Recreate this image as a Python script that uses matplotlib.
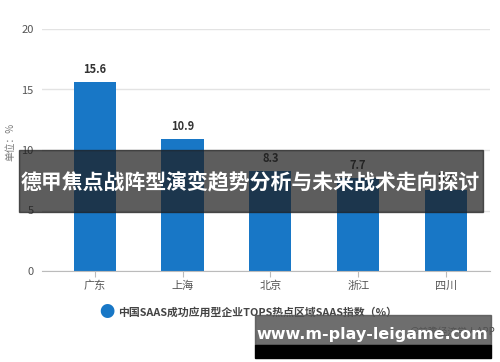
import matplotlib
matplotlib.use('Agg')
import matplotlib.pyplot as plt
from matplotlib.patches import Rectangle

plt.rcParams['font.family'] = ['Noto Sans CJK SC', 'DejaVu Sans']

regions = ['广东', '上海', '北京', '浙江', '四川']
values = [15.6, 10.9, 8.3, 7.7, 6.7]
yticks = [0, 5, 10, 15, 20]
legend_label = '中国SAAS成功应用型企业TOPS热点区域SAAS指数（%）'
banner_title = '德甲焦点战阵型演变趋势分析与未来战术走向探讨'
site = 'www.m-play-leigame.com'

W, H = 500, 362
fig = plt.figure(figsize=(W / 100, H / 100), dpi=100)
ax = fig.add_axes([42 / W, 1 - 271 / H, 448 / W, 242 / H])

bar_color = '#1877c6'
x = list(range(len(regions)))
ax.bar(x, values, width=0.48, color=bar_color, zorder=2)
for xi, v in zip(x, values):
    ax.text(xi, v + 0.5, f'{v}', ha='center', va='bottom', fontsize=8,
            fontweight='bold', color='#333333', zorder=3)

ax.set_xlim(-0.6, 4.5)
ax.set_ylim(0, 20)
ax.set_yticks(yticks)
ax.yaxis.grid(True, color='#e3e3e3', linewidth=1, zorder=0)
ax.set_axisbelow(True)
for side in ['top', 'right', 'left']:
    ax.spines[side].set_visible(False)
ax.spines['bottom'].set_color('#bbbbbb')
ax.tick_params(axis='y', length=0, labelsize=8, labelcolor='#555555', pad=6)
ax.tick_params(axis='x', length=4, color='#bbbbbb', labelsize=8,
               labelcolor='#555555', pad=3)
ax.set_xticks(x)
ax.set_xticklabels(regions)

fig.text(10 / W, 1 - 142 / H, '单位：%', rotation=90, ha='center', va='center',
         fontsize=7, color='#777777')

# legend
fig.text(107 / W, 1 - 312 / H, '●', ha='center', va='center', fontsize=11,
         color=bar_color)
fig.text(118 / W, 1 - 312 / H, legend_label, ha='left', va='center',
         fontsize=7.8, fontweight='bold', color='#444444')
fig.text(495 / W, 1 - 332 / H, '@前瞻经济学人APP', ha='right', va='center',
         fontsize=7, color='#444444')

# overlay banner
fig.patches.append(Rectangle((19 / W, 1 - 212 / H), 464 / W, 62 / H,
                             transform=fig.transFigure, color='#1e1e1e',
                             alpha=0.72, zorder=5))
fig.text(250 / W, 1 - 182 / H, banner_title, ha='center', va='center',
         fontsize=15, fontweight='bold', color='white', zorder=6)

# site box
fig.patches.append(Rectangle((255 / W, 1 - 345 / H), 236 / W, 30 / H,
                             transform=fig.transFigure, color='#555555',
                             alpha=0.85, zorder=5))
fig.patches.append(Rectangle((255 / W, 1 - 358 / H), 236 / W, 13 / H,
                             transform=fig.transFigure, color='black',
                             zorder=5))
fig.text(372 / W, 1 - 334 / H, site, ha='center', va='center', fontsize=11.5,
         fontweight='bold', color='white', family='DejaVu Sans', zorder=6)

fig.savefig('out.png', dpi=100)
